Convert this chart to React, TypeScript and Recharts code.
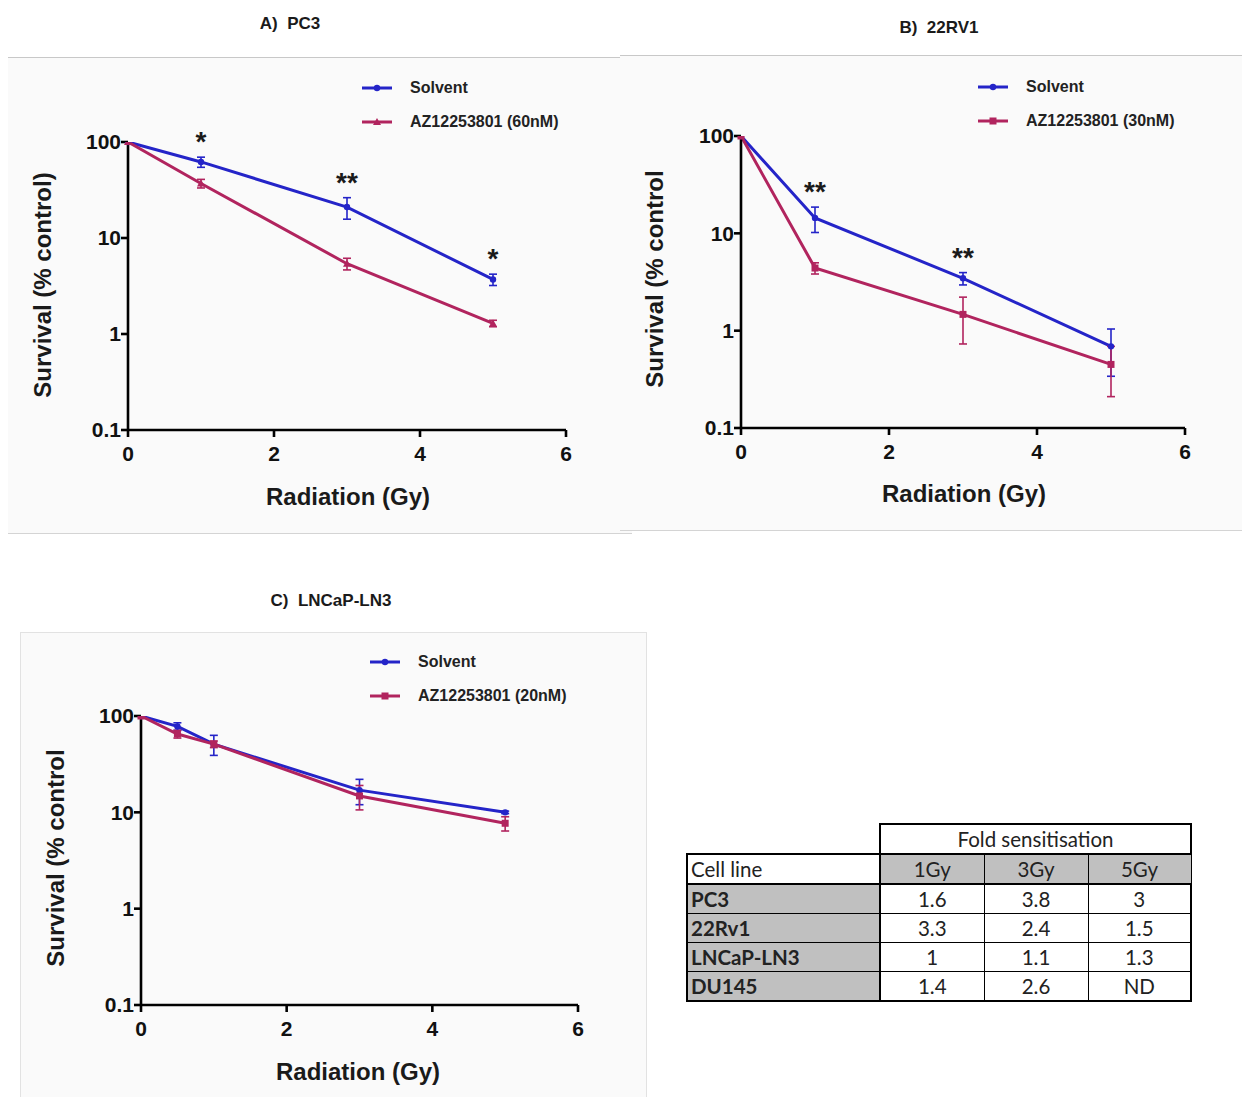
import React from 'react';
import { LineChart, Line, XAxis, YAxis, ErrorBar, Legend, LabelList } from 'recharts';

const BLUE = '#2424c8';
const RED = '#b1245e';
const FONT = "'Liberation Sans', Arial, sans-serif";
const TITLE_FONT = "'Liberation Sans Narrow', 'Liberation Sans', Arial, sans-serif";
const TABLE_FONT = "Lato, 'Open Sans', sans-serif";

// ---------- Panel A: PC3 ----------
const dosesA = [0, 1, 3, 5];
const solventA = [100, 62, 21, 3.7];
const solventErrA = [0, 7.5, 5.3, 0.5];
const azA = [100, 37, 5.4, 1.29];
const azErrA = [0, 3.8, 0.75, 0.1];
const sigA = ['', '*', '**', '*'];

// ---------- Panel B: 22RV1 ----------
const dosesB = [0, 1, 3, 5];
const solventB = [100, 14.4, 3.45, 0.69];
const solventErrB = [0, 4.2, 0.5, 0.35];
const azB = [100, 4.4, 1.47, 0.45];
const azErrB = [0, 0.58, 0.74, 0.24];
const sigB = ['', '**', '**', ''];

// ---------- Panel C: LNCaP-LN3 ----------
const dosesC = [0, 0.5, 1, 3, 5];
const solventC = [100, 78, 51, 17, 10];
const solventErrC = [0, 7, 12, 5, 0.3];
const azC = [100, 65, 51, 14.8, 7.7];
const azErrC = [0, 6, 4, 4.2, 1.3];
const sigC = ['', '', '', '', ''];

const xTicks = [0, 2, 4, 6];
const yTicks = [0.1, 1, 10, 100];

// ---------- Table ----------
const doseColumns = ['1Gy', '3Gy', '5Gy'];
const cellLines = ['PC3', '22Rv1', 'LNCaP-LN3', 'DU145'];
const foldPC3 = ['1.6', '3.8', '3'];
const fold22Rv1 = ['3.3', '2.4', '1.5'];
const foldLNCaP = ['1', '1.1', '1.3'];
const foldDU145 = ['1.4', '2.6', 'ND'];

type Row = {
  dose: number;
  solvent: number;
  solventErr: number;
  az: number;
  azErr: number;
  sig: string;
  sigY: number;
};

function buildRows(doses: number[], s: number[], se: number[], a: number[], ae: number[], sig: string[]): Row[] {
  return doses.map((d, i) => ({
    dose: d,
    solvent: s[i],
    solventErr: se[i],
    az: a[i],
    azErr: ae[i],
    sig: sig[i],
    sigY: s[i] + se[i],
  }));
}

type Marker = 'circle' | 'triangle' | 'square';

function drawMarker(marker: Marker, cx: number, cy: number, color: string, key?: any) {
  if (marker === 'circle') return <circle key={key} cx={cx} cy={cy} r={3.2} fill={color} />;
  if (marker === 'triangle')
    return <polygon key={key} points={`${cx},${cy - 4} ${cx - 4},${cy + 3} ${cx + 4},${cy + 3}`} fill={color} />;
  return <rect key={key} x={cx - 3.5} y={cy - 3.5} width={7} height={7} fill={color} />;
}

function makeDot(marker: Marker, color: string) {
  return (props: any) => {
    const { cx, cy, index } = props;
    if (cx == null || cy == null) return <g key={`e${index}`} />;
    return drawMarker(marker, cx, cy, color, `d${index}`);
  };
}

const StarLabel = (props: any) => {
  const { x, y, value } = props;
  if (!value) return null;
  return (
    <text x={x} y={y - 6} textAnchor="middle" fontSize={28} fontWeight="bold" fontFamily={FONT} fill="#1a1a1a">
      {value}
    </text>
  );
};

function LegendBox({ azLabel, azMarker }: { azLabel: string; azMarker: Marker }) {
  const rows = [
    { label: 'Solvent', color: BLUE, marker: 'circle' as Marker },
    { label: azLabel, color: RED, marker: azMarker },
  ];
  return (
    <div style={{ position: 'relative', width: 260, height: 54 }}>
      {rows.map((r, i) => (
        <div
          key={i}
          style={{ position: 'absolute', left: 0, top: i * 34, height: 20, display: 'flex', alignItems: 'center', whiteSpace: 'nowrap' }}
        >
          <svg width={30} height={12} style={{ display: 'block' }}>
            <line x1={0} y1={6} x2={30} y2={6} stroke={r.color} strokeWidth={3} />
            {drawMarker(r.marker, 15, 6, r.color)}
          </svg>
          <span style={{ marginLeft: 18, fontSize: 16, fontWeight: 'bold', fontFamily: FONT, color: '#222', lineHeight: '20px' }}>
            {r.label}
          </span>
        </div>
      ))}
    </div>
  );
}

type PanelProps = {
  rows: Row[];
  plotLeft: number;
  plotRight: number;
  plotTop: number;
  plotBottom: number;
  legendX: number;
  legendY: number;
  azLabel: string;
  azMarker: Marker;
};

const Y_AXIS_W = 60;
const M_TOP = 80;
const M_RIGHT = 20;
const X_AXIS_H = 40;

function Panel({ rows, plotLeft, plotRight, plotTop, plotBottom, legendX, legendY, azLabel, azMarker }: PanelProps) {
  const plotW = plotRight - plotLeft;
  const plotH = plotBottom - plotTop;
  const width = Y_AXIS_W + plotW + M_RIGHT;
  const height = M_TOP + plotH + X_AXIS_H;
  const left = plotLeft - Y_AXIS_W;
  const top = plotTop - M_TOP;
  const tickStyle = { fontSize: 21, fontWeight: 'bold' as const, fill: '#111', fontFamily: FONT };
  const axisLine = { stroke: '#000', strokeWidth: 2.6 };
  return (
    <div style={{ position: 'absolute', left, top, width, height }}>
      <LineChart width={width} height={height} data={rows} margin={{ top: M_TOP, right: M_RIGHT, bottom: 0, left: 0 }}>
        <XAxis
          type="number"
          dataKey="dose"
          domain={[0, 6]}
          ticks={xTicks}
          height={X_AXIS_H}
          tick={tickStyle}
          tickSize={7}
          tickMargin={9}
          axisLine={axisLine}
          tickLine={axisLine}
        />
        <YAxis
          type="number"
          scale="log"
          domain={[0.1, 100]}
          ticks={yTicks}
          width={Y_AXIS_W}
          tick={tickStyle}
          tickSize={7}
          tickMargin={0}
          axisLine={axisLine}
          tickLine={axisLine}
          tickFormatter={(v: number) => String(v)}
          allowDataOverflow
        />
        <Legend
          layout="vertical"
          align="center"
          verticalAlign="middle"
          wrapperStyle={{ left: legendX - left, top: legendY - 10 - top, width: 260 }}
          content={() => <LegendBox azLabel={azLabel} azMarker={azMarker} />}
        />
        <Line
          dataKey="solvent"
          name="Solvent"
          stroke={BLUE}
          strokeWidth={3}
          dot={makeDot('circle', BLUE)}
          activeDot={false}
          isAnimationActive={false}
        >
          <ErrorBar dataKey="solventErr" direction="y" width={4} stroke={BLUE} strokeWidth={1.6} />
        </Line>
        <Line
          dataKey="az"
          name={azLabel}
          stroke={RED}
          strokeWidth={3}
          dot={makeDot(azMarker, RED)}
          activeDot={false}
          isAnimationActive={false}
        >
          <ErrorBar dataKey="azErr" direction="y" width={4} stroke={RED} strokeWidth={1.6} />
        </Line>
        <Line
          dataKey="sigY"
          stroke="none"
          dot={false}
          activeDot={false}
          legendType="none"
          isAnimationActive={false}
        >
          <LabelList dataKey="sig" content={StarLabel} />
        </Line>
      </LineChart>
    </div>
  );
}

function AxisTitle({ text, cx, cy, rotate }: { text: string; cx: number; cy: number; rotate?: boolean }) {
  return (
    <div
      style={{
        position: 'absolute',
        left: cx,
        top: cy,
        transform: `translate(-50%, -50%)${rotate ? ' rotate(-90deg)' : ''}`,
        whiteSpace: 'nowrap',
        fontFamily: FONT,
        fontWeight: 'bold',
        fontSize: 24,
        color: '#1a1a1a',
        lineHeight: '28px',
      }}
    >
      {text}
    </div>
  );
}

function PanelTitle({ text, cx, cy }: { text: string; cx: number; cy: number }) {
  return (
    <div
      style={{
        position: 'absolute',
        left: cx,
        top: cy,
        transform: 'translate(-50%, -50%)',
        whiteSpace: 'pre',
        fontFamily: TITLE_FONT,
        fontWeight: 'bold',
        fontSize: 17,
        color: '#1a1a1a',
        lineHeight: '20px',
      }}
    >
      {text}
    </div>
  );
}

function FoldTable() {
  const values = [foldPC3, fold22Rv1, foldLNCaP, foldDU145];
  const thick = '2.5px solid #000';
  const thin = '1.5px solid #000';
  const cell: React.CSSProperties = { height: 28, padding: 0, textAlign: 'center', fontSize: 20.5, color: '#222', lineHeight: '24px' };
  const gray = '#c0c0c0';
  return (
    <table
      style={{
        position: 'absolute',
        left: 686,
        top: 823,
        width: 504,
        borderCollapse: 'collapse',
        fontFamily: TABLE_FONT,
        tableLayout: 'fixed',
      }}
    >
      <colgroup>
        <col style={{ width: 193 }} />
        <col style={{ width: 104 }} />
        <col style={{ width: 104 }} />
        <col style={{ width: 103 }} />
      </colgroup>
      <tbody>
        <tr>
          <td style={{ ...cell, border: 'none' }} />
          <td colSpan={3} style={{ ...cell, border: thick, background: '#fff' }}>
            Fold sensitisation
          </td>
        </tr>
        <tr>
          <td style={{ ...cell, textAlign: 'left', paddingLeft: 3, border: thick, background: '#fff' }}>Cell line</td>
          {doseColumns.map((d) => (
            <td key={d} style={{ ...cell, border: thin, borderTop: thick, borderBottom: thick, background: gray }}>
              {d}
            </td>
          ))}
        </tr>
        {cellLines.map((c, i) => (
          <tr key={c}>
            <td
              style={{
                ...cell,
                textAlign: 'left',
                paddingLeft: 3,
                fontWeight: 'bold',
                border: thin,
                borderLeft: thick,
                borderRight: thick,
                borderBottom: i === cellLines.length - 1 ? thick : thin,
                background: gray,
              }}
            >
              {c}
            </td>
            {values[i].map((v, j) => (
              <td
                key={j}
                style={{
                  ...cell,
                  border: thin,
                  borderRight: j === 2 ? thick : thin,
                  borderBottom: i === cellLines.length - 1 ? thick : thin,
                  background: '#fff',
                }}
              >
                {v}
              </td>
            ))}
          </tr>
        ))}
      </tbody>
    </table>
  );
}

const rowsA = buildRows(dosesA, solventA, solventErrA, azA, azErrA, sigA);
const rowsB = buildRows(dosesB, solventB, solventErrB, azB, azErrB, sigB);
const rowsC = buildRows(dosesC, solventC, solventErrC, azC, azErrC, sigC);

export default function App() {
  return (
    <div
      style={{
        position: 'absolute',
        left: 0,
        top: 0,
        width: 1242,
        height: 1097,
        background: '#fff',
        overflow: 'hidden',
      }}
    >
      {/* panel backgrounds */}
      <div style={{ position: 'absolute', left: 8, top: 57, width: 624, height: 475, background: '#fafafa', borderTop: '1.5px solid #c8c8c8', borderBottom: '1.5px solid #d4d4d4' }} />
      <div style={{ position: 'absolute', left: 620, top: 55, width: 622, height: 474, background: '#fafafa', borderTop: '1.5px solid #c8c8c8', borderBottom: '1.5px solid #d4d4d4' }} />
      <div style={{ position: 'absolute', left: 20, top: 632, width: 625, height: 470, background: '#fafafa', border: '1.5px solid #e2e2e2' }} />

      <PanelTitle text="A)  PC3" cx={290} cy={24} />
      <PanelTitle text="B)  22RV1" cx={939} cy={28} />
      <PanelTitle text="C)  LNCaP-LN3" cx={331} cy={601} />

      <Panel rows={rowsA} plotLeft={128} plotRight={566} plotTop={142} plotBottom={430} legendX={362} legendY={88} azLabel="AZ12253801 (60nM)" azMarker="triangle" />
      <Panel rows={rowsB} plotLeft={741} plotRight={1185} plotTop={136} plotBottom={428} legendX={978} legendY={87} azLabel="AZ12253801 (30nM)" azMarker="square" />
      <Panel rows={rowsC} plotLeft={141} plotRight={578} plotTop={716} plotBottom={1005} legendX={370} legendY={662} azLabel="AZ12253801 (20nM)" azMarker="square" />

      <AxisTitle text="Survival (% control)" cx={42.5} cy={285} rotate />
      <AxisTitle text="Radiation (Gy)" cx={348} cy={497} />
      <AxisTitle text="Survival (% control" cx={655} cy={279} rotate />
      <AxisTitle text="Radiation (Gy)" cx={964} cy={494} />
      <AxisTitle text="Survival (% control" cx={55.5} cy={858} rotate />
      <AxisTitle text="Radiation (Gy)" cx={358} cy={1072} />

      <FoldTable />
    </div>
  );
}
